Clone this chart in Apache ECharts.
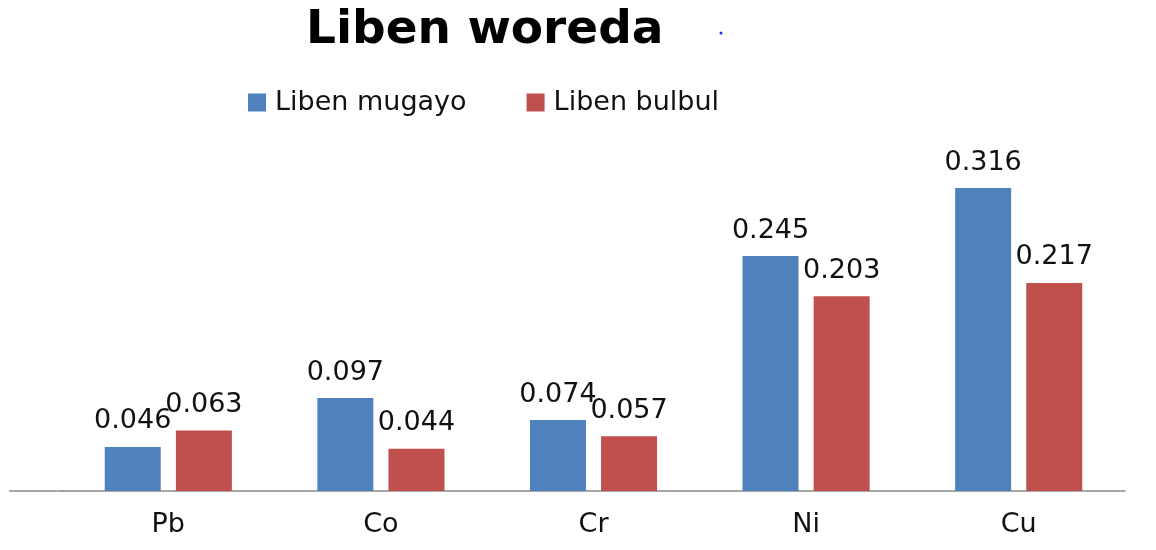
<!DOCTYPE html>
<html>
<head>
<meta charset="utf-8">
<script src="https://cdn.jsdelivr.net/npm/echarts@6/dist/echarts.min.js"></script>
<style>html,body{margin:0;padding:0;background:#fff;}#c{width:1156px;height:550px;}</style>
</head>
<body>
<div id="c"></div>
<script>
const categories = ['Pb', 'Co', 'Cr', 'Ni', 'Cu'];
const seriesNames = ['Liben mugayo', 'Liben bulbul'];
const libenMugayo = [0.046, 0.097, 0.074, 0.245, 0.316];
const libenBulbul = [0.063, 0.044, 0.057, 0.203, 0.217];
const titleText = 'Liben woreda';

const chart = echarts.init(document.getElementById('c'));
const font = "'DejaVu Sans', Verdana, sans-serif";
const labelCfg = {
  show: true, position: 'top', distance: 12,
  fontFamily: font, fontSize: 27, color: '#111',
  formatter: p => p.value.toFixed(3)
};
chart.setOption({
  animation: false,
  backgroundColor: '#fff',
  title: {
    text: titleText, left: 301, top: 2,
    textStyle: { fontFamily: font, fontWeight: 'bold', fontSize: 47, color: '#000' }
  },
  legend: {
    left: 243, top: 84, itemWidth: 18, itemHeight: 18, itemGap: 60,
    icon: 'rect',
    textStyle: { fontFamily: font, fontSize: 27, color: '#111', padding: [0, 0, 0, 4] },
    data: seriesNames
  },
  grid: { left: 62, right: 31, top: 155.4, bottom: 59 },
  xAxis: {
    type: 'category', data: categories,
    axisLine: { lineStyle: { color: '#8a8a8a', width: 1.5 } },
    axisTick: { show: false },
    axisLabel: { fontFamily: font, fontSize: 27, color: '#111', margin: 20 }
  },
  yAxis: { type: 'value', min: 0, max: 0.35, show: false, splitLine: { show: false } },
  series: [
    { name: seriesNames[0], type: 'bar', data: libenMugayo, barWidth: 56, barGap: '27%',
      itemStyle: { color: '#4F81BD' }, label: labelCfg },
    { name: seriesNames[1], type: 'bar', data: libenBulbul, barWidth: 56, barGap: '27%',
      itemStyle: { color: '#C0504D' }, label: labelCfg }
  ],
  graphic: [
    { type: 'line', shape: { x1: 9, y1: 491, x2: 63, y2: 491 }, style: { stroke: '#8a8a8a', lineWidth: 1.5 } },
    { type: 'circle', shape: { cx: 721, cy: 33, r: 1.5 }, style: { fill: '#2233ee' } }
  ]
});
</script>
</body>
</html>
